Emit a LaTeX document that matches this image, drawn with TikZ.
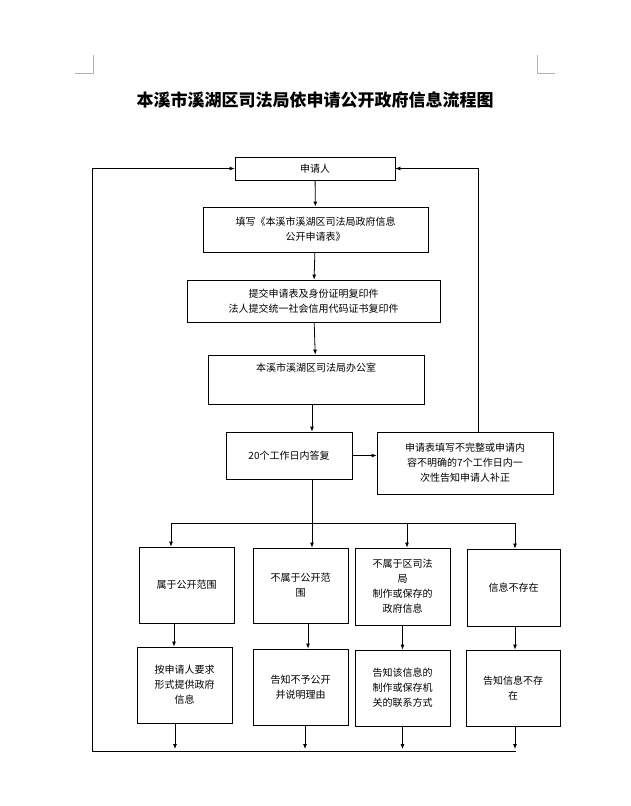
\documentclass[tikz,border=0pt]{standalone}
\usepackage{fontspec}
\setmainfont{Noto Sans CJK SC}
\usetikzlibrary{arrows.meta}
\begin{document}
\begin{tikzpicture}[x=1pt,y=-1pt,
  bx/.style={draw,thick,align=center,font=\fontsize{10}{15}\selectfont,inner sep=2pt},
  ar/.style={thick,-{Latex[length=5pt,width=4pt]}},
  ln/.style={thick}]
\useasboundingbox (0,0) rectangle (630,806);
\draw[gray!60] (93,55)--(93,73)--(75,73) (537,55)--(537,73)--(555,73);
\node[font=\fontsize{17}{20}\selectfont\bfseries] (t) at (315,100) {本溪市溪湖区司法局依申请公开政府信息流程图};
\node[bx,minimum width=160,minimum height=23] (a) at (315,168.5) {申请人};
\node[bx,minimum width=225,minimum height=45] (b) at (315.5,229.5) {填写《本溪市溪湖区司法局政府信息\\公开申请表》};
\node[bx,minimum width=253,minimum height=42] (c) at (313.5,301) {提交申请表及身份证明复印件\\法人提交统一社会信用代码证书复印件};
\node[bx,minimum width=216,minimum height=49,text depth=25pt] (d) at (316,379.5) {本溪市溪湖区司法局办公室};
\node[bx,minimum width=126,minimum height=47] (e) at (289,455.5) {20个工作日内答复};
\node[bx,minimum width=176,minimum height=62] (f) at (465,463) {申请表填写不完整或申请内\\容不明确的7个工作日内一\\次性告知申请人补正};
\node[bx,minimum width=95,minimum height=76] (g1) at (186.5,585) {属于公开范围};
\node[bx,minimum width=95,minimum height=75] (g2) at (300.5,585.5) {不属于公开范\\围};
\node[bx,minimum width=95,minimum height=77] (g3) at (402.5,586.5) {不属于区司法\\局\\制作或保存的\\政府信息};
\node[bx,minimum width=93,minimum height=77] (g4) at (513.5,587.5) {信息不存在};
\node[bx,minimum width=95,minimum height=76] (h1) at (184.5,685) {按申请人要求\\形式提供政府\\信息};
\node[bx,minimum width=95,minimum height=76] (h2) at (300.5,687) {告知不予公开\\并说明理由};
\node[bx,minimum width=95,minimum height=76] (h3) at (402.5,688) {告知该信息的\\制作或保存机\\关的联系方式};
\node[bx,minimum width=94,minimum height=76] (h4) at (513,688) {告知信息不存\\在};
\coordinate (bl) at (92,751); \coordinate (br) at (516,751);
\draw[ar] (a)--(b); \draw[ar] (b)--(c); \draw[ar] (c)--(d);
\draw[ar] (d.south -| 312,0) -- (e.north -| 312,0);
\draw[ar] (e)--(f.west |- e);
\draw[ar] (f.north -| 478,0) |- (a.east);
\draw[ar] (bl) |- (a.west);
\draw[ln] (bl)--(br);
\draw[ar] (e.south -| 312,0) -- (g2.north -| 312,0);
\draw[ln] (171,523)--(515,523);
\draw[ar] (171,523) -- (g1.north -| 171,0);
\draw[ar] (407,523) -- (g3.north -| 407,0);
\draw[ar] (515,523) -- (g4.north -| 515,0);
\draw[ar] (g1.south -| 174,0) -- (h1.north -| 174,0);
\draw[ar] (g2.south -| 308,0) -- (h2.north -| 308,0);
\draw[ar] (g3) -- (h3);
\draw[ar] (g4.south -| 515,0) -- (h4.north -| 515,0);
\draw[ar] (h1.south -| 175,0) -- (175,749);
\draw[ar] (h2.south -| 305,0) -- (305,749);
\draw[ar] (h3) -- (h3 |- 0,749);
\draw[ar] (h4.south -| 515,0) -- (515,749);
\end{tikzpicture}
\end{document}
